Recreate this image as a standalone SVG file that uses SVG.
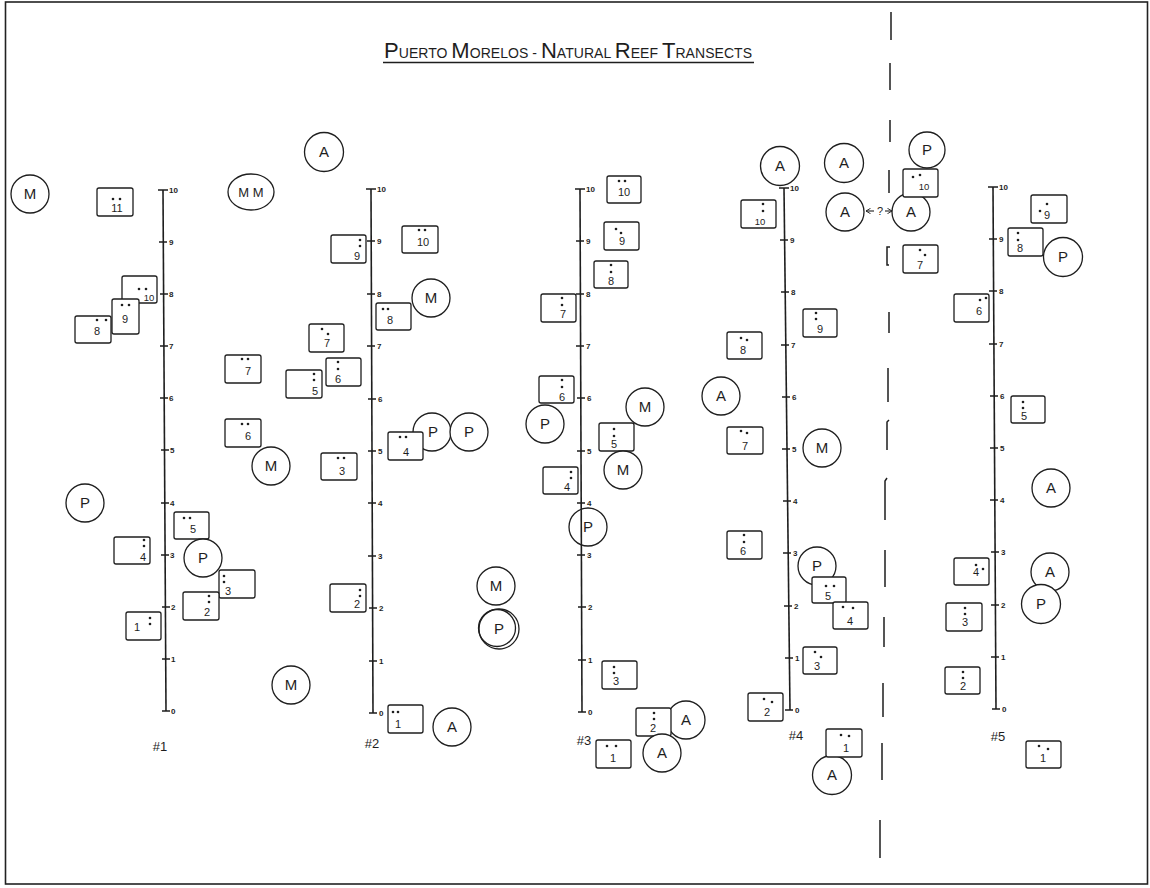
<svg xmlns="http://www.w3.org/2000/svg" width="1150" height="888" viewBox="0 0 1150 888">
<defs>
<style>
.bx{fill:#fff;stroke:#1e1e1e;stroke-width:1.3}
.cc{fill:#fff;stroke:#1e1e1e;stroke-width:1.3}
.cn{fill:none;stroke:#1e1e1e;stroke-width:1.3}
.ax{stroke:#1e1e1e;stroke-width:1.6;fill:none}
.tk{stroke:#1e1e1e;stroke-width:1.4}
.ds{stroke:#1e1e1e;stroke-width:1.5;fill:none}
.L{font-family:"Liberation Sans",Arial,sans-serif;font-size:15px;text-anchor:middle;fill:#1e1e1e}
.N{font-family:"Liberation Sans",Arial,sans-serif;font-size:11px;text-anchor:middle;fill:#1e1e1e}
.S{font-family:"Liberation Sans",Arial,sans-serif;font-size:9.5px;text-anchor:middle;fill:#1e1e1e}
.Q{font-family:"Liberation Sans",Arial,sans-serif;font-size:11px;text-anchor:middle;fill:#1e1e1e}
.T{font-family:"Liberation Sans",Arial,sans-serif;font-size:8px;font-weight:bold;fill:#1e1e1e}
.H{font-family:"Liberation Sans",Arial,sans-serif;font-size:13px;text-anchor:middle;fill:#1e1e1e}
.d{fill:#1e1e1e}
</style>
<marker id="ah" viewBox="0 0 6 6" refX="5" refY="3" markerWidth="5" markerHeight="5" orient="auto-start-reverse"><path d="M0,0 L5,3 L0,6" fill="none" stroke="#1e1e1e" stroke-width="1"/></marker>
</defs>
<rect width="1150" height="888" fill="#fff"/>
<rect x="5.5" y="2" width="1142" height="882" fill="none" stroke="#222" stroke-width="1.6"/>

<g id="title">
<text x="384" y="58" font-family="Liberation Sans, Arial, sans-serif" fill="#1e1e1e" textLength="368" lengthAdjust="spacing"><tspan font-size="22">P</tspan><tspan font-size="14">UERTO </tspan><tspan font-size="22">M</tspan><tspan font-size="14">ORELOS - </tspan><tspan font-size="22">N</tspan><tspan font-size="14">ATURAL </tspan><tspan font-size="22">R</tspan><tspan font-size="14">EEF </tspan><tspan font-size="22">T</tspan><tspan font-size="14">RANSECTS</tspan></text>
<line x1="383" y1="62.5" x2="754" y2="62.5" stroke="#1e1e1e" stroke-width="1.6"/>
</g>

<g id="divider">
<path class="ds" d="M891,12 V40 M890,63 V90 M890,120 V142 M889,170 V193 M890,247 H887 V265 H889 M889,312 V333 M888,368 V402 M889,420 L887,422 V450 M887,478 L885,481 V520 M885,550 V587 M884,617 V647 M883,683 V717 M882,743 V780 M880,820 V858"/>
</g>

<g id="transect1">
<line class="ax" x1="163" y1="190" x2="166" y2="711"/>
<path class="tk" d="M158,190 H168 M159,242 H167 M160,294 H168 M160,346 H168 M160,398 H168 M161,450 H169 M161,503 H169 M161,555 H169 M162,607 H170 M162,659 H170 M162,711 H170"/>
<text class="T" x="169" y="193">10</text><text class="T" x="169" y="245">9</text><text class="T" x="169" y="297">8</text><text class="T" x="169" y="349">7</text><text class="T" x="169" y="401">6</text><text class="T" x="170" y="453">5</text><text class="T" x="170" y="506">4</text><text class="T" x="170" y="558">3</text><text class="T" x="171" y="610">2</text><text class="T" x="171" y="662">1</text><text class="T" x="171" y="714">0</text>
<text class="H" x="160" y="751">#1</text>
</g>
<g id="transect2">
<line class="ax" x1="371" y1="189" x2="373" y2="713"/>
<path class="tk" d="M366,189 H376 M367,241 H375 M367,294 H375 M367,346 H375 M368,399 H376 M368,451 H376 M368,503 H376 M368,556 H376 M369,608 H377 M369,661 H377 M369,713 H377"/>
<text class="T" x="377" y="192">10</text><text class="T" x="377" y="244">9</text><text class="T" x="377" y="297">8</text><text class="T" x="377" y="349">7</text><text class="T" x="378" y="402">6</text><text class="T" x="378" y="454">5</text><text class="T" x="378" y="506">4</text><text class="T" x="378" y="559">3</text><text class="T" x="379" y="611">2</text><text class="T" x="379" y="664">1</text><text class="T" x="379" y="716">0</text>
<text class="H" x="372" y="748">#2</text>
</g>
<g id="transect3">
<line class="ax" x1="580" y1="189" x2="582" y2="712"/>
<path class="tk" d="M575,189 H585 M576,241 H584 M576,294 H584 M576,346 H584 M577,398 H585 M577,451 H585 M577,503 H585 M577,555 H585 M578,607 H586 M578,660 H586 M578,712 H586"/>
<text class="T" x="586" y="192">10</text><text class="T" x="586" y="244">9</text><text class="T" x="586" y="297">8</text><text class="T" x="586" y="349">7</text><text class="T" x="587" y="401">6</text><text class="T" x="587" y="454">5</text><text class="T" x="587" y="506">4</text><text class="T" x="587" y="558">3</text><text class="T" x="588" y="610">2</text><text class="T" x="588" y="663">1</text><text class="T" x="588" y="715">0</text>
<text class="H" x="584" y="745">#3</text>
</g>
<g id="transect4">
<line class="ax" x1="784" y1="188" x2="790" y2="710"/>
<path class="tk" d="M779,188 H789 M780,240 H788 M781,292 H789 M781,345 H789 M782,397 H790 M782,449 H790 M783,501 H791 M783,553 H791 M784,606 H792 M785,658 H793 M785,710 H793"/>
<text class="T" x="790" y="191">10</text><text class="T" x="790" y="243">9</text><text class="T" x="791" y="295">8</text><text class="T" x="791" y="348">7</text><text class="T" x="792" y="400">6</text><text class="T" x="792" y="452">5</text><text class="T" x="793" y="504">4</text><text class="T" x="793" y="556">3</text><text class="T" x="794" y="609">2</text><text class="T" x="795" y="661">1</text><text class="T" x="795" y="713">0</text>
<text class="H" x="796" y="740">#4</text>
</g>
<g id="transect5">
<line class="ax" x1="993" y1="187" x2="996" y2="709"/>
<path class="tk" d="M988,187 H998 M989,239 H997 M989,291 H997 M989,344 H997 M990,396 H998 M990,448 H998 M990,500 H998 M991,552 H999 M991,605 H999 M991,657 H999 M992,709 H1000"/>
<text class="T" x="999" y="190">10</text><text class="T" x="999" y="242">9</text><text class="T" x="999" y="294">8</text><text class="T" x="999" y="347">7</text><text class="T" x="1000" y="399">6</text><text class="T" x="1000" y="451">5</text><text class="T" x="1000" y="503">4</text><text class="T" x="1001" y="555">3</text><text class="T" x="1001" y="608">2</text><text class="T" x="1001" y="660">1</text><text class="T" x="1002" y="712">0</text>
<text class="H" x="998" y="741">#5</text>
</g>

<g id="connectors">
<line x1="874" y1="211" x2="866" y2="211" stroke="#1e1e1e" stroke-width="1.1" marker-end="url(#ah)"/>
<line x1="885" y1="211" x2="892" y2="211" stroke="#1e1e1e" stroke-width="1.1" marker-end="url(#ah)"/>
<text class="Q" x="880" y="215">?</text>
</g>

<!-- transect 1 nodes -->
<g id="t1-M-a"><circle class="cc" cx="30" cy="194" r="19"/><text class="L" x="30" y="199">M</text></g>
<g id="t1-b11"><rect class="bx" x="97" y="188" width="36" height="28" rx="2"/><text class="N" x="117" y="212">11</text><circle class="d" cx="113" cy="199" r="1.3"/><circle class="d" cx="120" cy="199" r="1.3"/></g>
<g id="t1-b10"><rect class="bx" x="122" y="276" width="35" height="27" rx="2"/><text class="S" x="149" y="301">10</text><circle class="d" cx="139" cy="289" r="1.3"/><circle class="d" cx="146" cy="289" r="1.3"/></g>
<g id="t1-b9"><rect class="bx" x="112" y="299" width="27" height="35" rx="2"/><text class="N" x="125" y="323">9</text><circle class="d" cx="122" cy="305" r="1.3"/><circle class="d" cx="129" cy="305" r="1.3"/></g>
<g id="t1-b8"><rect class="bx" x="75" y="316" width="36" height="27" rx="2"/><text class="N" x="97" y="335">8</text><circle class="d" cx="97" cy="320" r="1.3"/><circle class="d" cx="106" cy="320" r="1.3"/></g>
<g id="t1-MM"><ellipse class="cc" cx="251" cy="192" rx="23" ry="18"/><text class="H" x="251" y="197">M M</text></g>
<g id="t1-b7"><rect class="bx" x="225" y="355" width="36" height="28" rx="2"/><text class="N" x="248" y="375">7</text><circle class="d" cx="242" cy="359" r="1.3"/><circle class="d" cx="248" cy="359" r="1.3"/></g>
<g id="t1-b6"><rect class="bx" x="225" y="419" width="36" height="28" rx="2"/><text class="N" x="248" y="440">6</text><circle class="d" cx="242" cy="424" r="1.3"/><circle class="d" cx="248" cy="424" r="1.3"/></g>
<g id="t1-M-b"><circle class="cc" cx="271" cy="466" r="19"/><text class="L" x="271" y="471">M</text></g>
<g id="t1-P-a"><circle class="cc" cx="85" cy="503" r="19"/><text class="L" x="85" y="508">P</text></g>
<g id="t1-b5"><rect class="bx" x="174" y="512" width="35" height="27" rx="2"/><text class="N" x="193" y="533">5</text><circle class="d" cx="184" cy="518" r="1.3"/><circle class="d" cx="190" cy="518" r="1.3"/></g>
<g id="t1-b4"><rect class="bx" x="114" y="537" width="36" height="27" rx="2"/><text class="N" x="143" y="561">4</text><circle class="d" cx="144" cy="540" r="1.3"/><circle class="d" cx="144" cy="546" r="1.3"/></g>
<g id="t1-P-b"><circle class="cc" cx="203" cy="558" r="19"/><text class="L" x="203" y="563">P</text></g>
<g id="t1-b3"><rect class="bx" x="219" y="570" width="36" height="28" rx="2"/><text class="N" x="228" y="595">3</text><circle class="d" cx="224" cy="576" r="1.3"/><circle class="d" cx="224" cy="582" r="1.3"/></g>
<g id="t1-b2"><rect class="bx" x="183" y="592" width="36" height="28" rx="2"/><text class="N" x="207" y="616">2</text><circle class="d" cx="209" cy="596" r="1.3"/><circle class="d" cx="209" cy="602" r="1.3"/></g>
<g id="t1-b1"><rect class="bx" x="126" y="612" width="35" height="28" rx="2"/><text class="N" x="137" y="631">1</text><circle class="d" cx="150" cy="618" r="1.3"/><circle class="d" cx="150" cy="624" r="1.3"/></g>
<g id="t1-M-c"><circle class="cc" cx="291" cy="685" r="19"/><text class="L" x="291" y="690">M</text></g>

<!-- transect 2 nodes -->
<g id="t2-A-a"><circle class="cc" cx="324" cy="152" r="19.5"/><text class="L" x="324" y="157">A</text></g>
<g id="t2-b9"><rect class="bx" x="331" y="235" width="35" height="28" rx="2"/><text class="N" x="357" y="260">9</text><circle class="d" cx="360" cy="240" r="1.3"/><circle class="d" cx="360" cy="246" r="1.3"/></g>
<g id="t2-b10"><rect class="bx" x="402" y="226" width="36" height="27" rx="2"/><text class="N" x="423" y="246">10</text><circle class="d" cx="419" cy="230" r="1.3"/><circle class="d" cx="425" cy="230" r="1.3"/></g>
<g id="t2-M-a"><circle class="cc" cx="431" cy="298" r="19"/><text class="L" x="431" y="303">M</text></g>
<g id="t2-b8"><rect class="bx" x="376" y="303" width="35" height="27" rx="2"/><text class="N" x="390" y="324">8</text><circle class="d" cx="383" cy="309" r="1.3"/><circle class="d" cx="388" cy="309" r="1.3"/></g>
<g id="t2-b7"><rect class="bx" x="309" y="324" width="35" height="28" rx="2"/><text class="N" x="327" y="347">7</text><circle class="d" cx="322" cy="329" r="1.3"/><circle class="d" cx="328" cy="334" r="1.3"/></g>
<g id="t2-b6"><rect class="bx" x="326" y="358" width="35" height="28" rx="2"/><text class="N" x="338" y="383">6</text><circle class="d" cx="338" cy="362" r="1.3"/><circle class="d" cx="338" cy="369" r="1.3"/></g>
<g id="t2-b5"><rect class="bx" x="286" y="370" width="36" height="28" rx="2"/><text class="N" x="315" y="395">5</text><circle class="d" cx="314" cy="374" r="1.3"/><circle class="d" cx="314" cy="380" r="1.3"/></g>
<g id="t2-P-a"><circle class="cc" cx="432" cy="432" r="19"/><text class="L" x="433" y="437">P</text></g>
<g id="t2-P-b"><circle class="cc" cx="469" cy="432" r="19"/><text class="L" x="469" y="437">P</text></g>
<g id="t2-b4"><rect class="bx" x="388" y="432" width="35" height="28" rx="2"/><text class="N" x="406" y="456">4</text><circle class="d" cx="400" cy="437" r="1.3"/><circle class="d" cx="406" cy="437" r="1.3"/></g>
<g id="t2-b3"><rect class="bx" x="321" y="453" width="36" height="27" rx="2"/><text class="N" x="342" y="475">3</text><circle class="d" cx="338" cy="458" r="1.3"/><circle class="d" cx="344" cy="458" r="1.3"/></g>
<g id="t2-b2"><rect class="bx" x="330" y="584" width="36" height="28" rx="2"/><text class="N" x="357" y="608">2</text><circle class="d" cx="360" cy="590" r="1.3"/><circle class="d" cx="360" cy="596" r="1.3"/></g>
<g id="t2-M-b"><circle class="cc" cx="496" cy="586" r="19"/><text class="L" x="496" y="591">M</text></g>
<g id="t2-P-c"><circle class="cc" cx="499" cy="629" r="20"/><circle class="cn" cx="497" cy="628" r="18.5"/><text class="L" x="499" y="634">P</text></g>
<g id="t2-b1"><rect class="bx" x="388" y="705" width="35" height="28" rx="2"/><text class="N" x="398" y="728">1</text><circle class="d" cx="393" cy="712" r="1.3"/><circle class="d" cx="398" cy="712" r="1.3"/></g>
<g id="t2-A-b"><circle class="cc" cx="452" cy="727" r="19"/><text class="L" x="452" y="732">A</text></g>

<!-- transect 3 nodes -->
<g id="t3-b10"><rect class="bx" x="607" y="176" width="34" height="27" rx="2"/><text class="N" x="624" y="196">10</text><circle class="d" cx="619" cy="181" r="1.3"/><circle class="d" cx="625" cy="181" r="1.3"/></g>
<g id="t3-b9"><rect class="bx" x="604" y="222" width="35" height="28" rx="2"/><text class="N" x="622" y="245">9</text><circle class="d" cx="616" cy="229" r="1.3"/><circle class="d" cx="621" cy="233" r="1.3"/></g>
<g id="t3-b8"><rect class="bx" x="594" y="261" width="34" height="27" rx="2"/><text class="N" x="611" y="285">8</text><circle class="d" cx="611" cy="265" r="1.3"/><circle class="d" cx="611" cy="272" r="1.3"/></g>
<g id="t3-b7"><rect class="bx" x="541" y="294" width="35" height="28" rx="2"/><text class="N" x="563" y="318">7</text><circle class="d" cx="562" cy="298" r="1.3"/><circle class="d" cx="562" cy="305" r="1.3"/></g>
<g id="t3-b6"><rect class="bx" x="539" y="376" width="35" height="27" rx="2"/><text class="N" x="562" y="401">6</text><circle class="d" cx="562" cy="380" r="1.3"/><circle class="d" cx="562" cy="387" r="1.3"/></g>
<g id="t3-P-a"><circle class="cc" cx="545" cy="424" r="19"/><text class="L" x="545" y="429">P</text></g>
<g id="t3-M-a"><circle class="cc" cx="645" cy="407" r="19"/><text class="L" x="645" y="412">M</text></g>
<g id="t3-b5"><rect class="bx" x="599" y="423" width="35" height="28" rx="2"/><text class="N" x="614" y="448">5</text><circle class="d" cx="614" cy="429" r="1.3"/><circle class="d" cx="614" cy="436" r="1.3"/></g>
<g id="t3-M-b"><circle class="cc" cx="623" cy="470" r="19"/><text class="L" x="623" y="475">M</text></g>
<g id="t3-b4"><rect class="bx" x="543" y="467" width="35" height="27" rx="2"/><text class="N" x="567" y="491">4</text><circle class="d" cx="571" cy="472" r="1.3"/><circle class="d" cx="571" cy="478" r="1.3"/></g>
<g id="t3-P-b"><circle class="cn" cx="588" cy="527" r="19"/><text class="L" x="588" y="532">P</text></g>
<g id="t3-b3"><rect class="bx" x="602" y="661" width="35" height="28" rx="2"/><text class="N" x="616" y="685">3</text><circle class="d" cx="614" cy="667" r="1.3"/><circle class="d" cx="614" cy="673" r="1.3"/></g>
<g id="t3-A-a"><circle class="cc" cx="686" cy="720" r="19"/><text class="L" x="686" y="725">A</text></g>
<g id="t3-b2"><rect class="bx" x="636" y="708" width="35" height="28" rx="2"/><text class="N" x="653" y="732">2</text><circle class="d" cx="654" cy="713" r="1.3"/><circle class="d" cx="654" cy="719" r="1.3"/></g>
<g id="t3-b1"><rect class="bx" x="596" y="740" width="35" height="28" rx="2"/><text class="N" x="613" y="762">1</text><circle class="d" cx="607" cy="746" r="1.3"/><circle class="d" cx="616" cy="746" r="1.3"/></g>
<g id="t3-A-b"><circle class="cc" cx="662" cy="753" r="19"/><text class="L" x="662" y="758">A</text></g>

<!-- transect 4 nodes -->
<g id="t4-A-a"><circle class="cc" cx="780" cy="166" r="19.5"/><text class="L" x="780" y="171">A</text></g>
<g id="t4-A-b"><circle class="cc" cx="844" cy="163" r="19.5"/><text class="L" x="844" y="168">A</text></g>
<g id="t4-b10"><rect class="bx" x="741" y="200" width="35" height="28" rx="2"/><text class="S" x="760" y="225">10</text><circle class="d" cx="763" cy="204" r="1.3"/><circle class="d" cx="763" cy="211" r="1.3"/></g>
<g id="t4-A-c"><circle class="cc" cx="845" cy="212" r="19"/><text class="L" x="845" y="217">A</text></g>
<g id="t4-b9"><rect class="bx" x="803" y="309" width="34" height="28" rx="2"/><text class="N" x="820" y="333">9</text><circle class="d" cx="816" cy="313" r="1.3"/><circle class="d" cx="816" cy="319" r="1.3"/></g>
<g id="t4-b8"><rect class="bx" x="727" y="332" width="35" height="27" rx="2"/><text class="N" x="743" y="354">8</text><circle class="d" cx="741" cy="338" r="1.3"/><circle class="d" cx="747" cy="340" r="1.3"/></g>
<g id="t4-A-d"><circle class="cc" cx="721" cy="396" r="19"/><text class="L" x="721" y="401">A</text></g>
<g id="t4-b7"><rect class="bx" x="727" y="427" width="36" height="27" rx="2"/><text class="N" x="745" y="450">7</text><circle class="d" cx="741" cy="431" r="1.3"/><circle class="d" cx="747" cy="433" r="1.3"/></g>
<g id="t4-M"><circle class="cc" cx="822" cy="448" r="19"/><text class="L" x="822" y="453">M</text></g>
<g id="t4-b6"><rect class="bx" x="727" y="531" width="35" height="28" rx="2"/><text class="N" x="743" y="555">6</text><circle class="d" cx="744" cy="535" r="1.3"/><circle class="d" cx="744" cy="542" r="1.3"/></g>
<g id="t4-P"><circle class="cc" cx="817" cy="566" r="19"/><text class="L" x="817" y="571">P</text></g>
<g id="t4-b5"><rect class="bx" x="812" y="577" width="34" height="26" rx="2"/><text class="N" x="828" y="600">5</text><circle class="d" cx="826" cy="586" r="1.3"/><circle class="d" cx="834" cy="586" r="1.3"/></g>
<g id="t4-b4"><rect class="bx" x="833" y="602" width="35" height="27" rx="2"/><text class="N" x="850" y="625">4</text><circle class="d" cx="843" cy="607" r="1.3"/><circle class="d" cx="853" cy="608" r="1.3"/></g>
<g id="t4-b3"><rect class="bx" x="803" y="647" width="34" height="27" rx="2"/><text class="N" x="817" y="670">3</text><circle class="d" cx="815" cy="652" r="1.3"/><circle class="d" cx="821" cy="657" r="1.3"/></g>
<g id="t4-b2"><rect class="bx" x="748" y="693" width="35" height="28" rx="2"/><text class="N" x="767" y="716">2</text><circle class="d" cx="764" cy="699" r="1.3"/><circle class="d" cx="772" cy="702" r="1.3"/></g>
<g id="t4-A-e"><circle class="cc" cx="832" cy="775" r="19.5"/><text class="L" x="832" y="780">A</text></g>
<g id="t4-b1"><rect class="bx" x="826" y="729" width="36" height="28" rx="2"/><text class="N" x="846" y="752">1</text><circle class="d" cx="841" cy="735" r="1.3"/><circle class="d" cx="849" cy="736" r="1.3"/></g>

<!-- transect 5 nodes -->
<g id="t5-P-a"><circle class="cc" cx="927" cy="150" r="18"/><text class="L" x="927" y="155">P</text></g>
<g id="t5-A-a"><circle class="cc" cx="911" cy="212" r="19"/><text class="L" x="911" y="217">A</text></g>
<g id="t5-b10"><rect class="bx" x="903" y="169" width="35" height="28" rx="2"/><text class="S" x="924" y="190">10</text><circle class="d" cx="913" cy="177" r="1.3"/><circle class="d" cx="920" cy="175" r="1.3"/></g>
<g id="t5-b7"><rect class="bx" x="903" y="245" width="35" height="28" rx="2"/><text class="N" x="920" y="269">7</text><circle class="d" cx="920" cy="250" r="1.3"/><circle class="d" cx="925" cy="255" r="1.3"/></g>
<g id="t5-b9"><rect class="bx" x="1031" y="195" width="36" height="28" rx="2"/><text class="N" x="1047" y="219">9</text><circle class="d" cx="1047" cy="204" r="1.3"/><circle class="d" cx="1040" cy="211" r="1.3"/></g>
<g id="t5-P-b"><circle class="cc" cx="1063" cy="257" r="19.5"/><text class="L" x="1063" y="262">P</text></g>
<g id="t5-b8"><rect class="bx" x="1008" y="228" width="35" height="28" rx="2"/><text class="N" x="1020" y="252">8</text><circle class="d" cx="1018" cy="233" r="1.3"/><circle class="d" cx="1018" cy="240" r="1.3"/></g>
<g id="t5-b6"><rect class="bx" x="954" y="294" width="35" height="28" rx="2"/><text class="N" x="979" y="315">6</text><circle class="d" cx="980" cy="300" r="1.3"/><circle class="d" cx="986" cy="298" r="1.3"/></g>
<g id="t5-b5"><rect class="bx" x="1011" y="396" width="34" height="27" rx="2"/><text class="N" x="1024" y="420">5</text><circle class="d" cx="1023" cy="402" r="1.3"/><circle class="d" cx="1023" cy="408" r="1.3"/></g>
<g id="t5-A-b"><circle class="cc" cx="1051" cy="488" r="19"/><text class="L" x="1051" y="493">A</text></g>
<g id="t5-A-c"><circle class="cc" cx="1050" cy="572" r="19"/><text class="L" x="1050" y="577">A</text></g>
<g id="t5-P-c"><circle class="cc" cx="1041" cy="604" r="19.5"/><text class="L" x="1041" y="609">P</text></g>
<g id="t5-b4"><rect class="bx" x="954" y="558" width="35" height="27" rx="2"/><text class="N" x="976" y="576">4</text><circle class="d" cx="976" cy="565" r="1.3"/><circle class="d" cx="983" cy="569" r="1.3"/></g>
<g id="t5-b3"><rect class="bx" x="946" y="603" width="36" height="28" rx="2"/><text class="N" x="965" y="626">3</text><circle class="d" cx="965" cy="608" r="1.3"/><circle class="d" cx="965" cy="614" r="1.3"/></g>
<g id="t5-b2"><rect class="bx" x="945" y="667" width="35" height="27" rx="2"/><text class="N" x="963" y="690">2</text><circle class="d" cx="963" cy="672" r="1.3"/><circle class="d" cx="963" cy="678" r="1.3"/></g>
<g id="t5-b1"><rect class="bx" x="1026" y="741" width="35" height="27" rx="2"/><text class="N" x="1043" y="762">1</text><circle class="d" cx="1039" cy="746" r="1.3"/><circle class="d" cx="1048" cy="749" r="1.3"/></g>
</svg>
